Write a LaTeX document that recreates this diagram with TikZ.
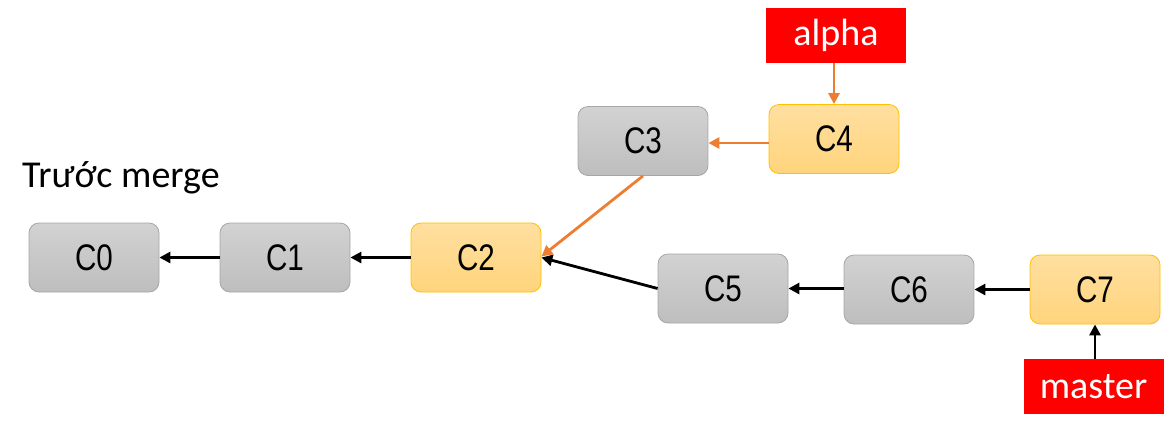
\documentclass[tikz,border=0pt]{standalone}
\usepackage{fontspec}
\setmainfont{Carlito}
\newfontfamily\cfont[FakeStretch=0.8]{Liberation Sans}
\usetikzlibrary{arrows.meta}
\definecolor{gtop}{HTML}{D2D2D2}
\definecolor{gbot}{HTML}{BEBEBE}
\definecolor{gline}{HTML}{A6A6A6}
\definecolor{ytop}{HTML}{FFDFA0}
\definecolor{ybot}{HTML}{FFD47C}
\definecolor{yline}{HTML}{FFC000}
\definecolor{bred}{HTML}{FF0000}
\definecolor{orng}{HTML}{ED7D31}
\tikzset{
  commit/.style={rectangle, rounded corners=10pt, minimum width=130pt, minimum height=69pt,
    inner sep=0pt, line width=0.8pt, font=\cfont\fontsize{37}{40}\selectfont},
  grey/.style={commit, draw=gline, top color=gtop, bottom color=gbot},
  yel/.style={commit, draw=yline, top color=ytop, bottom color=ybot},
  branch/.style={rectangle, fill=bred, text=white, minimum width=140pt, minimum height=55pt,
    inner sep=0pt, font=\fontsize{38}{42}\selectfont},
  conn/.style={-{Triangle[length=11pt,width=11pt]}, line width=2.8pt},
  oconn/.style={conn, draw=orng, color=orng},
}
\begin{document}
\begin{tikzpicture}[x=1pt,y=-1pt]
\useasboundingbox (0,0) rectangle (1170,432);
\node[grey] (c0) at (94,257.5) {C0};
\node[grey] (c1) at (285,257.5) {C1};
\node[yel]  (c2) at (476,257.5) {C2};
\node[grey] (c3) at (643,141) {C3};
\node[yel]  (c4) at (834,139) {C4};
\node[grey] (c5) at (723,288.5) {C5};
\node[grey] (c6) at (909,289.5) {C6};
\node[yel]  (c7) at (1095,289.5) {C7};
\node[branch] (alpha) at (836,35) {alpha};
\node[branch] (master) at (1093.5,386.5) {master};
\node[anchor=base west, font=\fontsize{38}{42}\selectfont, inner sep=0pt] (title) at (22,187) {Trước merge};
\draw[conn] (c1.west) -- (c0.east);
\draw[conn] (c2.west) -- (c1.east);
\draw[conn] (c5.west) -- (c2.east);
\draw[conn] ([yshift=1pt]c6.west) -- ([yshift=1pt]c6.west -| c5.east);
\draw[conn] (c7.west) -- (c6.east);
\draw[conn] (master.north -| c7.south) -- (c7.south);
\draw[oconn] ([yshift=-4pt]c4.west) -- ([yshift=-4pt]c4.west -| c3.east);
\draw[oconn] (c3.south) -- ([yshift=1pt]c2.east);
\draw[oconn] (alpha.south -| c4.north) -- (c4.north);
\end{tikzpicture}
\end{document}
